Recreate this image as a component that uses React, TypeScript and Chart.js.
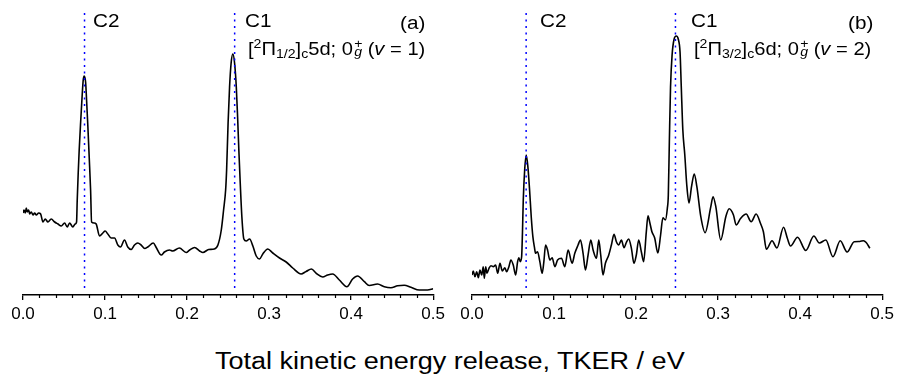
import React, { useEffect, useRef } from 'react';
import { Chart, registerables } from 'chart.js';

Chart.register(...registerables);

// ---------- data ----------
const X_MIN = 0;
const X_MAX = 0.5;
const MAJOR_STEP = 0.1;
const MINOR_TICKS = [0.02, 0.04, 0.06, 0.08, 0.12, 0.14, 0.16, 0.18, 0.22, 0.24, 0.26, 0.28, 0.32, 0.34, 0.36, 0.38, 0.42, 0.44, 0.46, 0.48];
const AXIS_TITLE = 'Total kinetic energy release, TKER / eV';

// panel (a)
const tkerA = [0, 0.0012, 0.0028, 0.0040, 0.0052, 0.0069, 0.0082, 0.0101, 0.0122, 0.0142, 0.0162, 0.0191, 0.0215, 0.0243, 0.0271, 0.0304, 0.0344, 0.0386, 0.0426, 0.0466, 0.0507, 0.0539, 0.0568, 0.0608, 0.0636, 0.0653, 0.0661, 0.0673, 0.0685, 0.0702, 0.0718, 0.0734, 0.0746, 0.0763, 0.0775, 0.0791, 0.0807, 0.0824, 0.0836, 0.0867, 0.0892, 0.0933, 0.0973, 0.1001, 0.1034, 0.1074, 0.1116, 0.1156, 0.1189, 0.1237, 0.1277, 0.1318, 0.1359, 0.1399, 0.1439, 0.1484, 0.1521, 0.1588, 0.1624, 0.1685, 0.1724, 0.1785, 0.1825, 0.1906, 0.1989, 0.2032, 0.2092, 0.2153, 0.2193, 0.2263, 0.2332, 0.2376, 0.2417, 0.2445, 0.2470, 0.2482, 0.2500, 0.2518, 0.2537, 0.2558, 0.2579, 0.2600, 0.2616, 0.2631, 0.2648, 0.2668, 0.2692, 0.2721, 0.2762, 0.2802, 0.2843, 0.2883, 0.2923, 0.2984, 0.3045, 0.3127, 0.3208, 0.3288, 0.3390, 0.3451, 0.3516, 0.3577, 0.3653, 0.3714, 0.3775, 0.3856, 0.3948, 0.4018, 0.4079, 0.4161, 0.4221, 0.4322, 0.4404, 0.4485, 0.4566, 0.4647, 0.4729, 0.4830, 0.4931, 0.5000];
const signalA = [82, 85, 82, 87, 83, 85, 81, 83, 80, 82, 80, 82, 81, 73, 76, 73, 76, 73, 71, 69, 72, 68, 72, 68, 71, 73, 95, 122, 145, 172, 195, 215, 219, 213, 195, 168, 138, 105, 73, 72, 71, 59, 62, 64, 61, 57, 57, 50, 48, 55, 48, 45.5, 50, 52, 50, 46.5, 48, 52, 47.5, 40, 43, 45, 44, 47, 42.5, 45, 47.5, 44, 42.5, 45.5, 46, 50, 65, 85, 105, 125, 172, 208, 232, 241, 232, 208, 178, 145, 112, 78, 56, 54, 56, 49, 39, 36, 41, 46, 42, 37, 33, 27, 21, 23.5, 26, 21.5, 18, 20, 21, 15, 8.3, 16, 19, 13.3, 9.5, 11, 8.3, 7.3, 9.3, 9.7, 7.7, 5, 5, 6.3];
const markersA = [0.075, 0.258];
const markerNamesA = ['C2', 'C1'];

// panel (b)
const tkerB = [0, 0.0016, 0.0036, 0.0057, 0.0077, 0.0097, 0.0118, 0.0137, 0.0150, 0.0167, 0.0182, 0.0207, 0.0231, 0.0259, 0.0288, 0.0313, 0.0341, 0.0369, 0.0401, 0.0422, 0.0450, 0.0474, 0.0503, 0.0532, 0.0556, 0.0572, 0.0588, 0.0605, 0.0615, 0.0625, 0.0642, 0.0661, 0.0681, 0.0702, 0.0722, 0.0742, 0.0763, 0.0775, 0.0799, 0.0827, 0.0855, 0.0876, 0.0897, 0.0921, 0.0949, 0.0977, 0.1010, 0.1043, 0.1091, 0.1131, 0.1172, 0.1220, 0.1253, 0.1293, 0.1322, 0.1354, 0.1383, 0.1415, 0.1448, 0.1476, 0.1517, 0.1545, 0.1569, 0.1597, 0.1626, 0.1667, 0.1699, 0.1731, 0.1760, 0.1788, 0.1821, 0.1853, 0.1882, 0.1910, 0.1943, 0.1974, 0.2003, 0.2032, 0.2064, 0.2092, 0.2125, 0.2145, 0.2165, 0.2193, 0.2226, 0.2266, 0.2299, 0.2327, 0.2357, 0.2381, 0.2393, 0.2406, 0.2420, 0.2439, 0.2464, 0.2490, 0.2514, 0.2536, 0.2551, 0.2570, 0.2594, 0.2618, 0.2645, 0.2676, 0.2709, 0.2741, 0.2789, 0.2841, 0.2911, 0.2938, 0.2972, 0.3032, 0.3094, 0.3135, 0.3187, 0.3220, 0.3275, 0.3342, 0.3403, 0.3464, 0.3516, 0.3552, 0.3589, 0.3657, 0.3717, 0.3798, 0.3844, 0.3883, 0.3968, 0.4069, 0.4167, 0.4234, 0.4313, 0.4400, 0.4489, 0.4572, 0.4659, 0.4726, 0.4772, 0.4805, 0.4850];
const signalB = [20, 24, 18.3, 23.3, 17.3, 25, 20, 28.3, 16.7, 28.3, 21.7, 26.7, 29.3, 28.3, 30, 21.7, 31.7, 24, 27.3, 23.3, 28.3, 35, 30, 20, 33.3, 37.3, 33.3, 38.3, 62, 95, 125, 140, 128.3, 105, 78.3, 58.3, 46.7, 41.7, 43.3, 33.3, 21.7, 33.3, 50, 45, 35, 37.3, 28.3, 35, 36.7, 28.3, 45, 31.7, 41.7, 50, 55, 41.7, 25, 40, 55, 45, 36.7, 55, 40, 20, 31.7, 40, 50, 60.7, 53.3, 50, 55, 47.3, 52.7, 56, 46.7, 31.7, 40, 55, 43.3, 33.3, 63.3, 79.3, 73.3, 63.3, 57.3, 42, 60, 77.3, 75, 86.7, 100, 155, 208, 240, 256, 259, 256, 243, 208.3, 165, 140, 110, 92, 108.3, 121, 108.3, 78.3, 62.3, 88.3, 98.3, 88.3, 55, 78.3, 86.2, 80, 70, 76.7, 81, 73.3, 81, 71.7, 63.3, 45.7, 54.3, 47, 67.7, 56.7, 49, 57.7, 44.5, 59, 52, 55, 38.3, 54.3, 43, 53.3, 53.5, 54.3, 52.5, 46.7];
const markersB = [0.066, 0.248];
const markerNamesB = ['C2', 'C1'];

const Y_MAX = 295;
const MARKER_Y = [7, 285];

// ---------- styling ----------
const FONT = '"Liberation Sans", Arial, Helvetica, sans-serif';
const STRETCH = 'scaleX(1.15)';

const minorTickPlugin = {
  id: 'minorTicks',
  afterDraw(chart: any) {
    const s = chart.scales.x;
    const ctx = chart.ctx;
    ctx.save();
    ctx.strokeStyle = '#000';
    ctx.lineWidth = 1.2;
    for (const v of MINOR_TICKS) {
      const px = Math.round(s.getPixelForValue(v)) + 0.5;
      ctx.beginPath();
      ctx.moveTo(px, s.top);
      ctx.lineTo(px, s.top + 3);
      ctx.stroke();
    }
    ctx.restore();
  },
};

function Panel(props: { left: number; xs: number[]; ys: number[]; markers: number[] }) {
  const ref = useRef<HTMLCanvasElement>(null);
  useEffect(() => {
    const points = props.xs.map((x, i) => ({ x, y: props.ys[i] }));
    const markerSets = props.markers.map((m) => ({
      data: MARKER_Y.map((y) => ({ x: m, y })),
      showLine: true,
      borderColor: '#0000ff',
      borderWidth: 1.5,
      borderDash: [2, 4.5],
      pointRadius: 0,
      fill: false,
    }));
    const chart = new Chart(ref.current as HTMLCanvasElement, {
      type: 'scatter',
      data: {
        datasets: [
          ...markerSets,
          {
            data: points,
            showLine: true,
            borderColor: '#000',
            borderWidth: 1.6,
            pointRadius: 0,
            fill: false,
            cubicInterpolationMode: 'monotone',
          } as any,
        ],
      },
      options: {
        animation: false,
        responsive: false,
        events: [],
        layout: { padding: { left: 23, right: 15, top: 0, bottom: 0 } },
        plugins: { legend: { display: false }, tooltip: { enabled: false }, title: { display: false } },
        scales: {
          x: {
            type: 'linear',
            min: X_MIN,
            max: X_MAX,
            position: 'bottom',
            grid: { display: true, drawOnChartArea: false, drawTicks: true, tickLength: 5, color: '#000', lineWidth: 1.3 },
            border: { display: true, color: '#000', width: 1.5 },
            ticks: {
              stepSize: MAJOR_STEP,
              color: '#000',
              padding: 4,
              autoSkip: false,
              maxRotation: 0,
              font: { family: FONT, size: 17 },
              callback: (v: any) => Number(v).toFixed(1),
            },
            afterFit: (s: any) => {
              s.height = 45;
            },
          },
          y: { type: 'linear', display: false, min: 0, max: Y_MAX },
        },
      },
      plugins: [minorTickPlugin],
    } as any);
    return () => chart.destroy();
  }, []);
  return (
    <canvas
      ref={ref}
      width={449}
      height={340}
      style={{ position: 'absolute', left: props.left, top: 0, width: 449, height: 340 }}
    />
  );
}

const textBase: React.CSSProperties = {
  position: 'absolute',
  fontFamily: FONT,
  fontSize: 18,
  lineHeight: 1,
  whiteSpace: 'nowrap',
  color: '#000',
  transform: STRETCH,
  transformOrigin: 'left top',
};

function Text({ left, top, children, size }: any) {
  return <div style={{ ...textBase, left, top, fontSize: size || 18 }}>{children}</div>;
}

function StateLabel({ left, top, omega, n, v }: any) {
  const small: React.CSSProperties = { fontSize: '0.7em' };
  return (
    <div style={{ ...textBase, left, top, fontSize: 17.5 }}>
      [<span style={{ ...small, verticalAlign: '0.55em' }}>2</span>Π
      <span style={{ ...small, verticalAlign: '-0.3em' }}>{omega}</span>]
      <span style={{ ...small, verticalAlign: '-0.3em' }}>c</span>
      {n}d; 0
      <span style={{ display: 'inline-block', position: 'relative', width: '0.45em', height: '1em', verticalAlign: 'top' }}>
        <span style={{ ...small, position: 'absolute', left: 1, top: '0.0em' }}>+</span>
        <span style={{ ...small, position: 'absolute', left: 1, top: '0.62em', fontStyle: 'italic' }}>g</span>
      </span>{' '}
      (<i>v</i> = {v})
    </div>
  );
}

export default function App() {
  return (
    <div style={{ position: 'absolute', left: 0, top: 0, width: 898, height: 376, background: '#fff', overflow: 'hidden' }}>
      <Panel left={0} xs={tkerA} ys={signalA} markers={markersA} />
      <Panel left={449} xs={tkerB} ys={signalB} markers={markersB} />

      <Text left={93} top={12}>{markerNamesA[0]}</Text>
      <Text left={245} top={12}>{markerNamesA[1]}</Text>
      <Text left={399.5} top={14.3}>(a)</Text>
      <StateLabel left={248} top={38} omega="1/2" n={5} v={1} />

      <Text left={539.7} top={12}>{markerNamesB[0]}</Text>
      <Text left={690.7} top={12}>{markerNamesB[1]}</Text>
      <Text left={847.5} top={14.3}>(b)</Text>
      <StateLabel left={694} top={38} omega="3/2" n={6} v={2} />

      <Text left={215} top={350} size={23.5}>{AXIS_TITLE}</Text>
    </div>
  );
}
